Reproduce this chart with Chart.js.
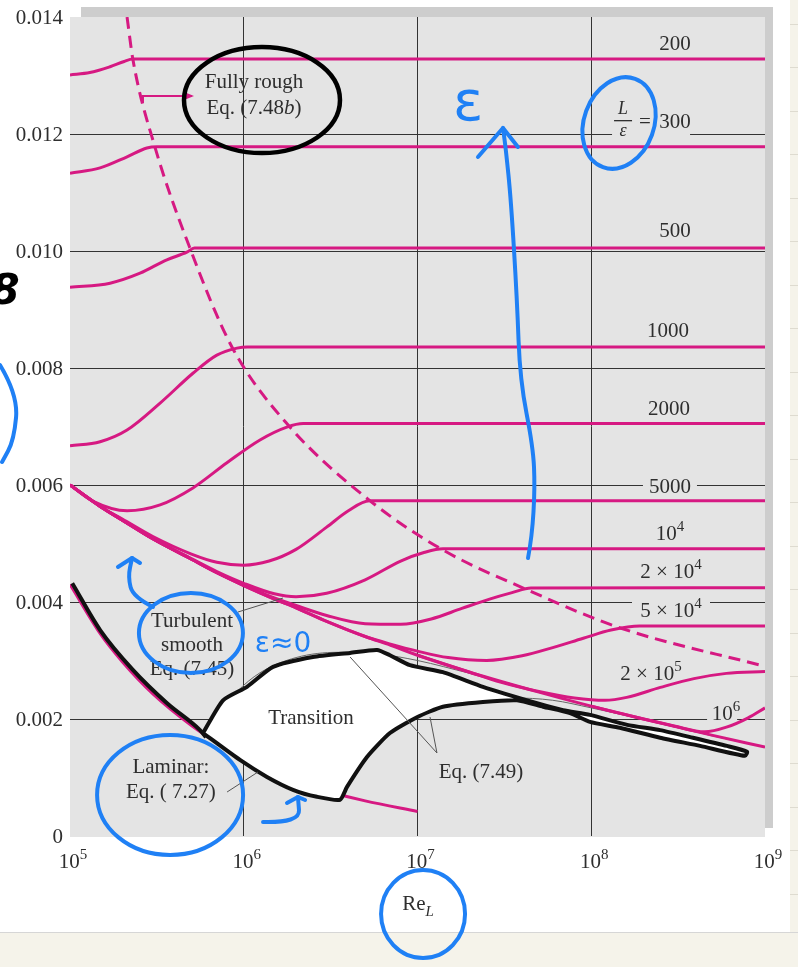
<!DOCTYPE html>
<html>
<head>
<meta charset="utf-8">
<script src="https://cdn.jsdelivr.net/npm/chart.js@4.4.0/dist/chart.umd.min.js"></script>
<style>
  html, body { margin: 0; padding: 0; background: #f5f3ea; }
  canvas { display: block; }
</style>
</head>
<body>
<canvas id="cfChart" width="798" height="967"></canvas>
<script>
// axis ticks
const xTickPowers = [5, 6, 7, 8, 9];
const yTicks = [0, 0.002, 0.004, 0.006, 0.008, 0.010, 0.012, 0.014];

// turbulent smooth, Eq. (7.45)
const reSmooth = [1e5, 1.5e5, 2e5, 3e5, 5e5, 7e5, 1e6, 1.5e6, 2e6, 3e6, 5e6, 7e6, 1e7, 2e7, 5e7, 1e8, 2e8, 5e8, 1e9];
const cfSmooth = [0.00600, 0.00563, 0.00540, 0.00508, 0.00473, 0.00450, 0.00428, 0.00405, 0.00390, 0.00367, 0.00341, 0.00326, 0.00309, 0.00280, 0.00246, 0.00222, 0.00200, 0.00172, 0.00152];

// laminar, Eq. (7.27)
const reLam = [1e5, 1.5e5, 2e5, 3e5, 5e5, 7e5, 1e6, 2e6, 3e6, 5e6, 1e7];
const cfLam = [0.00430, 0.00345, 0.00298, 0.00243, 0.00189, 0.00160, 0.00134, 0.00094, 0.00077, 0.00060, 0.00042];

// fully rough boundary (dashed), Eq. (7.48b)
const reDash = [2.13e5, 2.3e5, 3.08e5, 4.9e5, 8.55e5, 1.77e6, 5.33e6, 1.4e7, 4.27e7, 1.47e8, 1e9];
const cfDash = [0.01400, 0.01328, 0.01178, 0.01005, 0.00836, 0.00705, 0.00573, 0.00489, 0.00421, 0.003556, 0.00290];

// L/eps curves
const re200 = [1e5, 1.3e5, 1.7e5, 2.05e5, 2.3e5, 1e9];
const cf200 = [0.01301, 0.01305, 0.01315, 0.01324, 0.01328, 0.01328];
const re300 = [1e5, 1.49e5, 2.13e5, 2.77e5, 3.17e5, 1e9];
const cf300 = [0.01133, 0.01142, 0.01161, 0.01176, 0.01178, 0.01178];
const re500 = [1e5, 1.7e5, 2.53e5, 3.61e5, 4.71e5, 5.2e5, 1e9];
const cf500 = [0.00938, 0.00945, 0.00962, 0.00985, 0.00998, 0.01005, 0.01005];
const re1000 = [1e5, 1.49e5, 2.13e5, 3.3e5, 5.1e5, 7e5, 9.15e5, 1.05e6, 1e9];
const cf1000 = [0.00667, 0.00674, 0.00694, 0.00740, 0.00791, 0.00822, 0.00834, 0.00836, 0.00836];
const re2000 = [1e5, 1.36e5, 2.13e5, 3.3e5, 5.1e5, 8e5, 1.24e6, 1.77e6, 2.2e6, 1e9];
const cf2000 = [0.00600, 0.00572, 0.00556, 0.00566, 0.00595, 0.00638, 0.00677, 0.00699, 0.00705, 0.00705];
const re5000 = [1e5, 1.5e5, 2e5, 3e5, 5e5, 7e5, 1e6, 1.4e6, 2e6, 3e6, 4e6, 5.3e6, 1e9];
const cf5000 = [0.00600, 0.00563, 0.00542, 0.00512, 0.00482, 0.00468, 0.00463, 0.00470, 0.00490, 0.00528, 0.00556, 0.00573, 0.00573];
const re1e4 = [1e5, 1.5e5, 2e5, 3e5, 5e5, 7e5, 1e6, 1.5e6, 2e6, 3e6, 5e6, 8e6, 1.1e7, 1.4e7, 1e9];
const cf1e4 = [0.00600, 0.00563, 0.00540, 0.00508, 0.00474, 0.00452, 0.00432, 0.00414, 0.00409, 0.00415, 0.00438, 0.00470, 0.00485, 0.00491, 0.00491];
const re2e4 = [1e5, 1.5e5, 2e5, 3e5, 5e5, 7e5, 1e6, 1.5e6, 2e6, 3e6, 5e6, 8e6, 1.2e7, 1.8e7, 2.6e7, 3.5e7, 4.5e7, 1e9];
const cf2e4 = [0.00600, 0.00563, 0.00540, 0.00508, 0.00473, 0.00450, 0.00429, 0.00407, 0.00394, 0.00377, 0.00363, 0.00362, 0.00371, 0.00389, 0.00405, 0.00416, 0.00424, 0.004245];
const re5e4 = [1e5, 1.5e5, 2e5, 3e5, 5e5, 7e5, 1e6, 1.5e6, 2e6, 3e6, 5e6, 7e6, 1e7, 1.5e7, 2.5e7, 4e7, 6e7, 9e7, 1.3e8, 1.9e8, 1e9];
const cf5e4 = [0.00600, 0.00563, 0.00540, 0.00508, 0.00473, 0.00450, 0.00428, 0.00405, 0.00390, 0.00367, 0.00341, 0.00328, 0.00316, 0.00305, 0.00300, 0.00308, 0.00322, 0.00338, 0.00352, 0.00359, 0.00359];
const re2e5 = [1e7, 2e7, 3e7, 5e7, 8e7, 1.2e8, 1.6e8, 2.5e8, 3.9e8, 6e8, 1e9];
const cf2e5 = [0.00309, 0.00280, 0.00263, 0.00247, 0.00236, 0.00232, 0.00237, 0.00254, 0.00269, 0.00278, 0.00281];
const re1e6 = [1e8, 2e8, 3e8, 4.5e8, 6e8, 8e8, 1e9];
const cf1e6 = [0.00222, 0.00200, 0.00188, 0.00178, 0.00186, 0.00202, 0.00219];

// transition curves, Eq. (7.49)
const reTr1 = [5.6e5, 6.6e5, 9.1e5, 1.24e6, 2e6, 3.5e6, 6e6, 1e7, 2e7, 3.5e7];
const cfTr1 = [0.00177, 0.00195, 0.00246, 0.00279, 0.00305, 0.00314, 0.00311, 0.00300, 0.00278, 0.00260];
const reTr2 = [3.3e6, 3.9e6, 5.3e6, 7.2e6, 1e7, 2e7, 3.5e7, 6e7, 1e8, 2e8, 5e8, 1e9];
const cfTr2 = [0.00070, 0.00113, 0.00159, 0.00193, 0.00212, 0.00233, 0.00236, 0.00232, 0.00219, 0.00199, 0.00171, 0.00152];

// hand-drawn highlight of the transition zone
const reOutline = [5.83e5, 7.6e5, 1.044e6, 1.474e6, 2.5e6, 4.09e6, 5.85e6, 6.94e6, 9.05e6, 1.4e7, 2.38e7, 4.87e7, 6.88e7, 9.83e7, 1.61e8, 2.49e8, 3.85e8, 6.04e8, 7.88e8,
  7.67e8, 4.23e8, 2.49e8, 1.46e8, 9.83e7, 7.55e7, 5.28e7, 3.74e7, 2.38e7, 1.4e7, 9.93e6, 6.94e6, 5.12e6, 3.93e6, 3.58e6, 2.64e6, 1.92e6, 1.36e6, 9.51e5, 5.83e5];
const cfOutline = [0.00176, 0.00232, 0.00255, 0.00289, 0.00306, 0.00313, 0.00318, 0.00309, 0.00292, 0.00280, 0.00255, 0.00227, 0.00215, 0.00207, 0.00190, 0.00181, 0.00168, 0.00154, 0.00144,
  0.00137, 0.00154, 0.00168, 0.00185, 0.00195, 0.00210, 0.00221, 0.00232, 0.00229, 0.00221, 0.00203, 0.00176, 0.00135, 0.00084, 0.00062, 0.00067, 0.00079, 0.00101, 0.00130, 0.00176];
const reHand = [1.03e5, 1.49e5, 2.3e5, 3.62e5, 5.6e5, 6.06e5];
const cfHand = [0.00432, 0.00352, 0.00284, 0.00227, 0.00181, 0.00169];

const PINK = '#d61982';
const INK = '#2e2e2e';
const BLUE = '#1f80f5';
const SERIF = '"Liberation Serif", "Times New Roman", serif';

function pts(re, cf) {
  return re.map((r, i) => ({ x: r, y: cf[i] }));
}
function curve(re, cf, extra) {
  return Object.assign({
    data: pts(re, cf),
    borderColor: PINK,
    borderWidth: 3,
    pointRadius: 0,
    fill: false,
    cubicInterpolationMode: 'monotone',
    order: 2
  }, extra || {});
}

// labels, anchored in axis units [log10 Re, Cf x 1000] (center x, baseline)
const curveLabels = [
  { parts: [['200', 'n']], at: [8.482, 13.436] },
  { parts: [['500', 'n']], at: [8.482, 10.239] },
  { parts: [['1000', 'n']], at: [8.442, 8.530] },
  { parts: [['2000', 'n']], at: [8.447, 7.197] },
  { parts: [['5000', 'n']], at: [8.453, 5.863], box: [-27, -21, 54, 25] },
  { parts: [['10', 'n'], ['4', 's']], at: [8.453, 5.060] },
  { parts: [['2 × 10', 'n'], ['4', 's']], at: [8.459, 4.410] },
  { parts: [['5 × 10', 'n'], ['4', 's']], at: [8.459, 3.744], box: [-39, -22, 78, 25] },
  { parts: [['2 × 10', 'n'], ['5', 's']], at: [8.344, 2.667] },
  { parts: [['10', 'n'], ['6', 's']], at: [8.776, 1.983], box: [-19, -24, 30, 26] }
];
const noteLabels = [
  { lines: [[['Fully rough', 'n']], [['Eq. (7.48', 'n'], ['b', 'i'], [')', 'n']]], at: [6.059, 12.786], gap: 26 },
  { lines: [[['Turbulent', 'n']], [['smooth', 'n']], [['Eq. (7.45)', 'n']]], at: [5.702, 3.573], gap: 24 },
  { lines: [[['Laminar:', 'n']], [['Eq. ( 7.27)', 'n']]], at: [5.581, 1.077], gap: 25 },
  { lines: [[['Transition', 'n']]], at: [6.387, 1.915] },
  { lines: [[['Eq. (7.49)', 'n']]], at: [7.365, 0.991] }
];
const leaders = [
  [[5.967, 3.829], [6.226, 4.068]],
  [[5.904, 0.752], [6.082, 1.094]],
  [[7.112, 1.419], [6.612, 3.060]],
  [[7.112, 1.419], [7.072, 2.034]]
];
const roughArrow = [[5.420, 12.530], [5.420, 12.650], [5.702, 12.650]];
const ratioLabelAt = [8.183, 12.222];
const axisTitleAt = [7.003, -1.265];

// handwritten marks on the figure
const scribbleEllipses = [
  { at: [6.105, 12.581], rx: 78, ry: 53, rot: 0, color: '#000', w: 4.5 },
  { at: [8.160, 12.188], rx: 35, ry: 47, rot: 0.35, color: BLUE, w: 4 },
  { at: [5.696, 3.470], rx: 52, ry: 40, rot: 0, color: BLUE, w: 4 },
  { at: [5.576, 0.701], rx: 73, ry: 60, rot: 0, color: BLUE, w: 4 },
  { at: [7.032, -1.333], rx: 42, ry: 44, rot: 0, color: BLUE, w: 4 }
];
const scribblePaths = [
  { p: [[7.636, 4.752], [7.659, 5.111], [7.676, 5.966], [7.665, 6.650], [7.590, 7.795], [7.573, 9.162], [7.538, 10.872], [7.509, 11.726], [7.492, 12.103]],
    head: [[7.348, 11.607], [7.492, 12.103], [7.578, 11.778]] },
  { p: [[5.478, 3.915], [5.363, 4.085], [5.334, 4.427], [5.357, 4.752]],
    head: [[5.276, 4.598], [5.357, 4.752], [5.403, 4.667]] },
  { p: [[6.111, 0.239], [6.324, 0.222], [6.312, 0.667]],
    head: [[6.249, 0.564], [6.312, 0.667], [6.353, 0.615]] },
  { p: [[4.597, 8.051], [4.701, 7.538], [4.678, 6.769], [4.609, 6.393]] }
];
const scribbleTexts = [
  { t: 'ɛ', at: [7.291, 12.496], size: 56, color: BLUE, font: '"DejaVu Sans"' },
  { t: 'ε≈0', at: [6.226, 3.265], size: 28, color: BLUE, font: '"DejaVu Sans"' },
  { t: '8', at: [4.626, 9.282], size: 42, color: '#000', font: 'bold italic "DejaVu Sans"' }
];

function fontOf(kind, size) {
  const small = kind === 's' || kind === 'sub';
  const ital = kind === 'i' || kind === 'sub';
  return (ital ? 'italic ' : '') + (small ? Math.round(size * 0.7) : size) + 'px ' + SERIF;
}
function rich(ctx, parts, cx, by, size, align) {
  let w = 0;
  for (const [t, k] of parts) { ctx.font = fontOf(k, size); w += ctx.measureText(t).width; }
  let x = align === 'right' ? cx - w : align === 'left' ? cx : cx - w / 2;
  ctx.textAlign = 'left';
  ctx.textBaseline = 'alphabetic';
  for (const [t, k] of parts) {
    ctx.font = fontOf(k, size);
    const dy = k === 's' ? -size * 0.42 : k === 'sub' ? size * 0.28 : 0;
    ctx.fillText(t, x, by + dy);
    x += ctx.measureText(t).width;
  }
}
function P(chart, a) {
  return [chart.scales.x.getPixelForValue(Math.pow(10, a[0])), chart.scales.y.getPixelForValue(a[1] / 1000)];
}
function smoothPath(ctx, q) {
  ctx.beginPath();
  ctx.moveTo(q[0][0], q[0][1]);
  for (let i = 1; i < q.length - 1; i++) {
    const mx = (q[i][0] + q[i + 1][0]) / 2, my = (q[i][1] + q[i + 1][1]) / 2;
    ctx.quadraticCurveTo(q[i][0], q[i][1], mx, my);
  }
  const l = q[q.length - 1];
  ctx.lineTo(l[0], l[1]);
  ctx.stroke();
}

const decor = {
  id: 'decor',
  beforeDraw(chart) {
    const ctx = chart.ctx, a = chart.chartArea;
    ctx.save();
    ctx.fillStyle = '#f5f3ea';
    ctx.fillRect(0, 0, chart.width, chart.height);
    ctx.fillStyle = '#ffffff';
    ctx.fillRect(0, 0, 790, 932);
    ctx.strokeStyle = '#dedbd0';
    ctx.lineWidth = 1;
    for (let y = 23.5; y < 932; y += 43.5) {
      ctx.beginPath(); ctx.moveTo(790, Math.round(y) + 0.5); ctx.lineTo(798, Math.round(y) + 0.5); ctx.stroke();
    }
    ctx.strokeStyle = '#d6d6d6';
    ctx.beginPath(); ctx.moveTo(0, 932.5); ctx.lineTo(798, 932.5); ctx.stroke();
    // shadow behind the plot panel
    ctx.fillStyle = '#cdcdcd';
    ctx.fillRect(a.left + 11, a.top - 10, a.right - a.left - 3, 10);
    ctx.fillRect(a.right, a.top - 10, 8, a.bottom - a.top + 2);
    ctx.fillStyle = '#e4e4e4';
    ctx.fillRect(a.left, a.top, a.right - a.left, a.bottom - a.top + 1);
    ctx.restore();
  },
  beforeDatasetsDraw(chart) {
    const ctx = chart.ctx;
    ctx.save();
    ctx.fillStyle = '#e4e4e4';
    for (const lb of curveLabels) {
      if (!lb.box) continue;
      const [x, y] = P(chart, lb.at);
      ctx.fillRect(x + lb.box[0], y + lb.box[1], lb.box[2], lb.box[3]);
    }
    const [rx, ry] = P(chart, ratioLabelAt);
    ctx.fillRect(rx - 11, ry - 23, 78, 43);
    ctx.restore();
  },
  afterDatasetsDraw(chart) {
    const ctx = chart.ctx, a = chart.chartArea;
    ctx.save();
    ctx.fillStyle = INK;
    // curve labels
    for (const lb of curveLabels) {
      const [x, y] = P(chart, lb.at);
      rich(ctx, lb.parts, x, y, 21);
    }
    // L/eps = 300
    const [fx, fy] = P(chart, ratioLabelAt);
    ctx.font = 'italic 18px ' + SERIF;
    ctx.textAlign = 'center';
    ctx.textBaseline = 'alphabetic';
    ctx.fillText('L', fx, fy - 7);
    ctx.fillText('ε', fx, fy + 15);
    ctx.fillRect(fx - 9, fy - 1, 18, 1.3);
    rich(ctx, [['=', 'n']], fx + 22, fy + 7, 21);
    rich(ctx, [['300', 'n']], fx + 52, fy + 7, 21);
    // notes
    for (const nl of noteLabels) {
      const [x, y] = P(chart, nl.at);
      nl.lines.forEach((ln, i) => rich(ctx, ln, x, y + i * (nl.gap || 0), 21));
    }
    // leader lines
    ctx.strokeStyle = '#555';
    ctx.lineWidth = 1;
    for (const ld of leaders) {
      const p0 = P(chart, ld[0]), p1 = P(chart, ld[1]);
      ctx.beginPath(); ctx.moveTo(p0[0], p0[1]); ctx.lineTo(p1[0], p1[1]); ctx.stroke();
    }
    // arrow to "Fully rough"
    ctx.strokeStyle = PINK;
    ctx.fillStyle = PINK;
    ctx.lineWidth = 2;
    const ar = roughArrow.map(q => P(chart, q));
    ctx.beginPath();
    ctx.moveTo(ar[0][0], ar[0][1]);
    ar.slice(1).forEach(q => ctx.lineTo(q[0], q[1]));
    ctx.stroke();
    const tip = ar[ar.length - 1];
    ctx.beginPath();
    ctx.moveTo(tip[0] + 2, tip[1]);
    ctx.lineTo(tip[0] - 9, tip[1] - 4.5);
    ctx.lineTo(tip[0] - 9, tip[1] + 4.5);
    ctx.closePath();
    ctx.fill();
    // tick labels
    ctx.fillStyle = INK;
    const ys = chart.scales.y, xs = chart.scales.x;
    ctx.font = '21px ' + SERIF;
    ctx.textAlign = 'right';
    ctx.textBaseline = 'middle';
    for (const v of yTicks) {
      ctx.fillText(v === 0 ? '0' : v.toFixed(3), a.left - 7, ys.getPixelForValue(v) + 1);
    }
    for (const p of xTickPowers) {
      rich(ctx, [['10', 'n'], [String(p), 's']], xs.getPixelForValue(Math.pow(10, p)) + 3, a.bottom + 32, 21);
    }
    const [tx, ty] = P(chart, axisTitleAt);
    rich(ctx, [['Re', 'n'], ['L', 'sub']], tx, ty, 21);
    // handwritten marks
    ctx.lineCap = 'round';
    ctx.lineJoin = 'round';
    for (const e of scribbleEllipses) {
      const [cx, cy] = P(chart, e.at);
      ctx.strokeStyle = e.color;
      ctx.lineWidth = e.w;
      ctx.beginPath();
      ctx.ellipse(cx, cy, e.rx, e.ry, e.rot, 0, Math.PI * 2);
      ctx.stroke();
    }
    ctx.strokeStyle = BLUE;
    ctx.lineWidth = 4;
    for (const s of scribblePaths) {
      smoothPath(ctx, s.p.map(q => P(chart, q)));
      if (s.head) {
        const h = s.head.map(q => P(chart, q));
        ctx.beginPath();
        ctx.moveTo(h[0][0], h[0][1]); ctx.lineTo(h[1][0], h[1][1]); ctx.lineTo(h[2][0], h[2][1]);
        ctx.stroke();
      }
    }
    for (const s of scribbleTexts) {
      const [x, y] = P(chart, s.at);
      ctx.fillStyle = s.color;
      ctx.font = s.size + 'px ' + s.font;
      if (s.font.indexOf('bold') === 0) ctx.font = s.font.replace('bold italic', 'bold italic ' + s.size + 'px');
      ctx.textAlign = 'center';
      ctx.textBaseline = 'middle';
      ctx.fillText(s.t, x, y);
    }
    ctx.restore();
  }
};

const datasets = [
  { data: pts(reHand, cfHand), borderColor: '#111', borderWidth: 4, pointRadius: 0, fill: false, cubicInterpolationMode: 'monotone', order: 0 },
  { data: pts(reOutline, cfOutline), borderColor: '#111', borderWidth: 4, backgroundColor: '#ffffff', pointRadius: 0, fill: 'shape', tension: 0.2, order: 1 },
  curve(reDash, cfDash, { borderDash: [12, 7] }),
  curve(re200, cf200), curve(re300, cf300), curve(re500, cf500), curve(re1000, cf1000),
  curve(re2000, cf2000), curve(re5000, cf5000), curve(re1e4, cf1e4), curve(re2e4, cf2e4),
  curve(re5e4, cf5e4), curve(re2e5, cf2e5), curve(re1e6, cf1e6),
  curve(reSmooth, cfSmooth), curve(reLam, cfLam),
  curve(reTr1, cfTr1, { borderColor: '#666', borderWidth: 1, order: 3 }),
  curve(reTr2, cfTr2, { borderColor: '#666', borderWidth: 1, order: 3 })
];

const chart = new Chart(document.getElementById('cfChart'), {
  type: 'line',
  data: { datasets: datasets },
  options: {
    responsive: false,
    animation: false,
    events: [],
    layout: { padding: { left: 70, top: 17, right: 33, bottom: 131 } },
    plugins: { legend: { display: false }, tooltip: { enabled: false } },
    scales: {
      x: {
        type: 'logarithmic',
        min: 1e5,
        max: 1e9,
        afterBuildTicks: (scale) => { scale.ticks = xTickPowers.map(p => ({ value: Math.pow(10, p) })); },
        ticks: { display: false },
        border: { display: false },
        grid: {
          drawTicks: false,
          lineWidth: 1,
          color: (c) => (c.index === 0 || c.index === xTickPowers.length - 1) ? 'rgba(0,0,0,0)' : '#333'
        }
      },
      y: {
        type: 'linear',
        min: 0,
        max: 0.014,
        afterBuildTicks: (scale) => { scale.ticks = yTicks.map(v => ({ value: v })); },
        ticks: { display: false },
        border: { display: false },
        grid: {
          drawTicks: false,
          lineWidth: 1,
          color: (c) => (c.index === 0 || c.index === yTicks.length - 1) ? 'rgba(0,0,0,0)' : '#333'
        }
      }
    }
  },
  plugins: [decor]
});
</script>
</body>
</html>
